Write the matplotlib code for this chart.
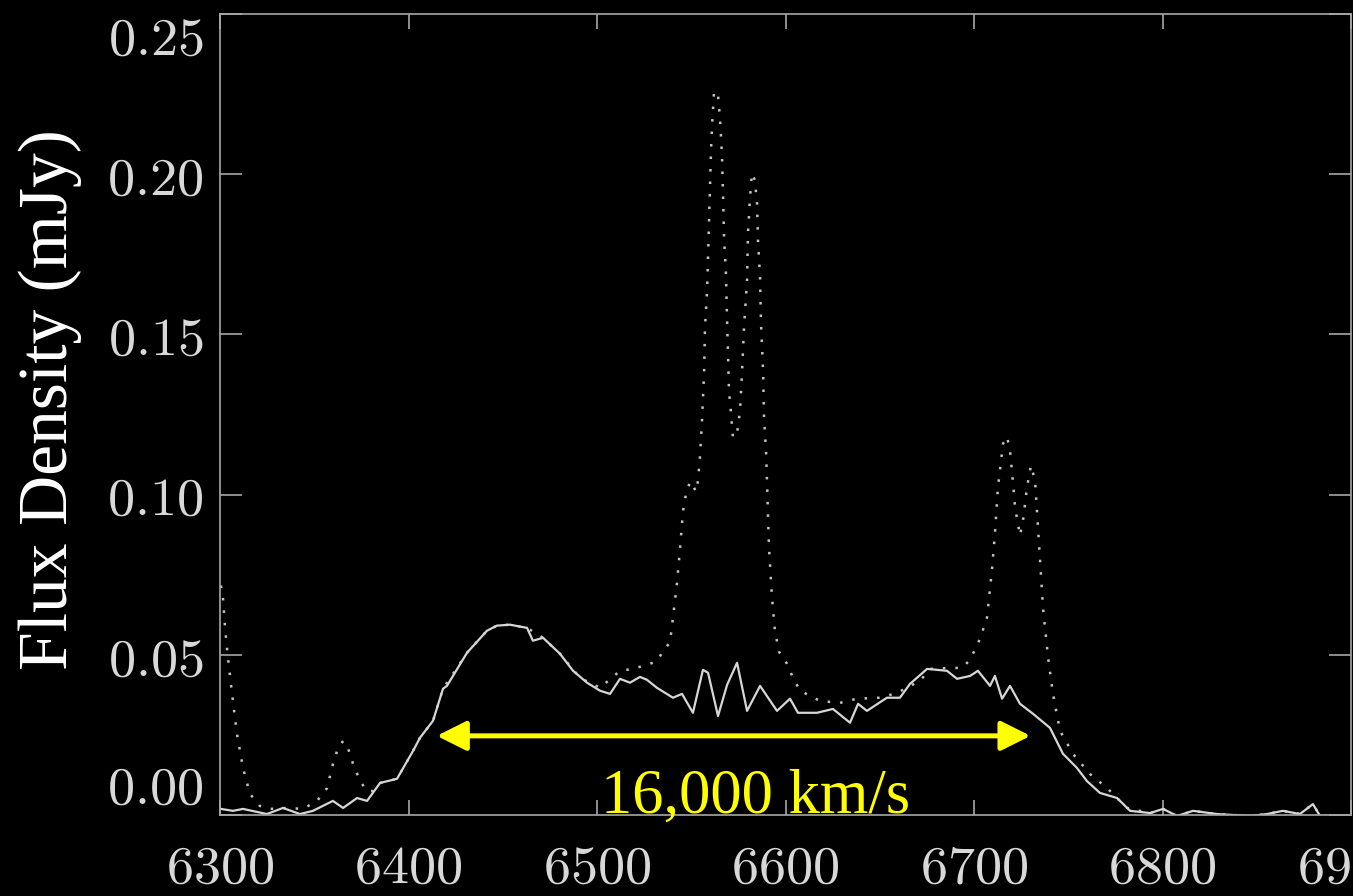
import matplotlib
matplotlib.use('Agg')
import matplotlib.pyplot as plt
from matplotlib.patches import FancyArrowPatch, ArrowStyle

plt.rcParams['mathtext.fontset'] = 'cm'

# solid spectrum (wavelength in A, flux in mJy)
solid_wl = [6300.5, 6306.9, 6312.2, 6324.9, 6333.4, 6342.4, 6349.3, 6359.9, 6365.3, 6372.7,
            6378.0, 6384.9, 6393.9, 6402.4, 6406.1, 6413.0, 6418.3, 6420.4, 6431.0, 6441.6,
            6446.9, 6453.8, 6462.9, 6466.0, 6471.4, 6480.4, 6487.3, 6494.7, 6501.6, 6506.9,
            6512.2, 6517.5, 6522.8, 6526.5, 6531.8, 6540.3, 6545.1, 6550.9, 6556.2, 6558.9,
            6564.2, 6569.0, 6574.3, 6579.6, 6586.5, 6595.5, 6602.4, 6606.6, 6616.7, 6625.2,
            6634.2, 6638.5, 6643.2, 6653.8, 6660.7, 6666.0, 6675.1, 6685.7, 6691.0, 6697.9,
            6702.1, 6708.5, 6711.1, 6714.9, 6719.1, 6724.4, 6731.3, 6740.3, 6747.2, 6754.6,
            6759.9, 6766.8, 6775.9, 6782.8, 6793.4, 6800.3, 6807.7, 6816.2, 6828.9, 6846.4,
            6855.4, 6863.9, 6872.9, 6879.8, 6883.6, 6890.5]
solid_fx = [0.0019, 0.0013, 0.0019, 0.0003, 0.0022, 0.0003, 0.0013, 0.0044, 0.0022, 0.0053,
            0.0044, 0.0100, 0.0113, 0.0200, 0.0241, 0.0294, 0.0394, 0.0403, 0.0506, 0.0575,
            0.0591, 0.0594, 0.0584, 0.0544, 0.0553, 0.0503, 0.0450, 0.0413, 0.0388, 0.0378,
            0.0425, 0.0413, 0.0431, 0.0422, 0.0397, 0.0366, 0.0378, 0.0319, 0.0453, 0.0444,
            0.0309, 0.0406, 0.0475, 0.0325, 0.0403, 0.0325, 0.0363, 0.0319, 0.0319, 0.0331,
            0.0288, 0.0347, 0.0325, 0.0366, 0.0366, 0.0409, 0.0456, 0.0450, 0.0425, 0.0434,
            0.0450, 0.0403, 0.0434, 0.0363, 0.0403, 0.0347, 0.0316, 0.0272, 0.0191, 0.0147,
            0.0106, 0.0069, 0.0053, 0.0013, 0.0006, 0.0019, -0.0003, 0.0013, 0.0003, -0.0003,
            0.0003, 0.0013, 0.0003, 0.0034, -0.0003, -0.0003]

# dotted spectrum (with narrow lines)
dot_wl = [6300.5, 6301.6, 6302.7, 6304.2, 6306.4, 6309.0, 6312.2, 6315.9, 6321.2, 6326.5,
          6335.5, 6344.0, 6351.5, 6356.8, 6359.9, 6362.6, 6365.3, 6367.9, 6370.6, 6374.3,
          6378.0, 6381.2, 6384.9, 6393.9, 6402.4, 6406.1, 6413.0, 6418.3, 6431.0, 6441.6,
          6446.9, 6453.8, 6462.9, 6471.4, 6480.4, 6491.0, 6501.6, 6512.2, 6519.1, 6529.7,
          6532.4, 6535.0, 6538.7, 6540.3, 6542.4, 6544.0, 6545.6, 6547.7, 6549.9, 6552.5,
          6553.6, 6554.6, 6555.7, 6556.8, 6557.3, 6558.4, 6558.9, 6559.4, 6559.9, 6560.5,
          6561.0, 6562.1, 6564.2, 6565.3, 6566.3, 6566.8, 6567.4, 6568.4, 6569.0, 6569.5,
          6570.0, 6571.1, 6572.1, 6574.3, 6575.9, 6576.9, 6578.0, 6579.6, 6580.1, 6581.2,
          6582.2, 6583.8, 6584.9, 6585.4, 6586.5, 6587.0, 6588.1, 6588.6, 6589.7, 6590.2,
          6591.2, 6592.8, 6594.4, 6596.6, 6600.8, 6604.0, 6607.7, 6618.3, 6628.9, 6637.9,
          6650.1, 6659.2, 6671.4, 6676.7, 6687.3, 6693.6, 6697.9, 6703.2, 6706.9, 6709.5,
          6711.1, 6712.7, 6715.4, 6717.5, 6719.1, 6720.2, 6721.8, 6724.4, 6726.0, 6728.1,
          6730.2, 6732.4, 6733.4, 6735.0, 6736.6, 6739.3, 6741.9, 6745.6, 6752.5, 6761.5,
          6770.6, 6781.2, 6793.4, 6800.3, 6807.7, 6816.2, 6828.9, 6846.4, 6855.4, 6863.9,
          6872.9, 6879.8, 6883.6, 6890.5]
dot_fx = [0.0716, 0.0675, 0.0584, 0.0491, 0.0378, 0.0253, 0.0147, 0.0066, 0.0028, 0.0019,
          0.0022, 0.0019, 0.0044, 0.0084, 0.0159, 0.0209, 0.0231, 0.0209, 0.0159, 0.0106,
          0.0075, 0.0075, 0.0100, 0.0113, 0.0200, 0.0241, 0.0294, 0.0394, 0.0506, 0.0575,
          0.0591, 0.0594, 0.0584, 0.0553, 0.0503, 0.0428, 0.0397, 0.0450, 0.0456, 0.0475,
          0.0484, 0.0513, 0.0538, 0.0616, 0.0722, 0.0828, 0.0947, 0.1019, 0.1041, 0.1009,
          0.1044, 0.1116, 0.1231, 0.1378, 0.1522, 0.1638, 0.1741, 0.1856, 0.1959, 0.2075,
          0.2147, 0.2259, 0.2247, 0.2169, 0.2059, 0.1950, 0.1803, 0.1691, 0.1544, 0.1441,
          0.1325, 0.1253, 0.1178, 0.1191, 0.1263, 0.1378, 0.1522, 0.1669, 0.1816, 0.1928,
          0.2003, 0.1981, 0.1909, 0.1794, 0.1678, 0.1534, 0.1388, 0.1241, 0.1131, 0.1038,
          0.0841, 0.0681, 0.0575, 0.0509, 0.0472, 0.0428, 0.0388, 0.0356, 0.0350, 0.0363,
          0.0366, 0.0381, 0.0419, 0.0456, 0.0459, 0.0459, 0.0484, 0.0550, 0.0616, 0.0763,
          0.0878, 0.1022, 0.1159, 0.1181, 0.1138, 0.1069, 0.0959, 0.0872, 0.0919, 0.1022,
          0.1091, 0.1044, 0.0950, 0.0803, 0.0647, 0.0491, 0.0378, 0.0263, 0.0191, 0.0128,
          0.0084, 0.0022, 0.0006, 0.0019, -0.0003, 0.0013, 0.0003, -0.0003, 0.0003, 0.0013,
          0.0003, 0.0034, -0.0003, -0.0003]

xticks = [6300, 6400, 6500, 6600, 6700, 6800, 6900]
yticks = [0.00, 0.05, 0.10, 0.15, 0.20, 0.25]
arrow_x = [6415, 6730]
arrow_y = 0.0247
label_x, label_y = 6584, 0.0006
label_text = '16,000 km/s'

fig = plt.figure(figsize=(13.53, 8.96), dpi=100, facecolor='black')
ax = fig.add_axes([220/1353, 81/896, 1131/1353, 801/896], facecolor='black')

ax.plot(dot_wl, dot_fx, color='#c4c4c4', lw=1.8, linestyle=(0, (1, 4)))
ax.plot(solid_wl, solid_fx, color='#d6d6d6', lw=1.6)

ax.set_xlim(6300, 6900)
ax.set_ylim(0.0, 0.25)
ax.set_xticks(xticks)
ax.set_xticklabels([f'${v}$' for v in xticks])
ax.set_yticks(yticks)
ax.set_yticklabels([f'${v:.2f}$' for v in yticks])
ax.tick_params(axis='both', which='major', direction='in', top=True, right=True,
               color='#a8a8a8', width=1.2, labelcolor='#d8d8d8', labelsize=39)
ax.tick_params(axis='x', length=11, pad=19)
ax.tick_params(axis='y', length=16, pad=12)
ylabs = ax.get_yticklabels()
ylabs[0].set_va('bottom')
ylabs[-1].set_va('top')
for s in ax.spines.values():
    s.set_color('#a8a8a8')
    s.set_linewidth(1.2)

fig.text(50/1353, 1 - 400/896, 'Flux Density (mJy)', rotation=90, ha='center', va='center',
         color='white', fontsize=50, family='Liberation Serif')

arr = FancyArrowPatch((arrow_x[0], arrow_y), (arrow_x[1], arrow_y),
                      arrowstyle=ArrowStyle('<|-|>', head_length=0.9, head_width=0.45),
                      mutation_scale=20, color='yellow', lw=3.6, shrinkA=0, shrinkB=0)
ax.add_patch(arr)
ax.text(label_x, label_y, label_text, color='yellow', fontsize=45,
        family='Liberation Serif', ha='center', va='baseline')

fig.savefig('out.png', dpi=100, facecolor='black')
